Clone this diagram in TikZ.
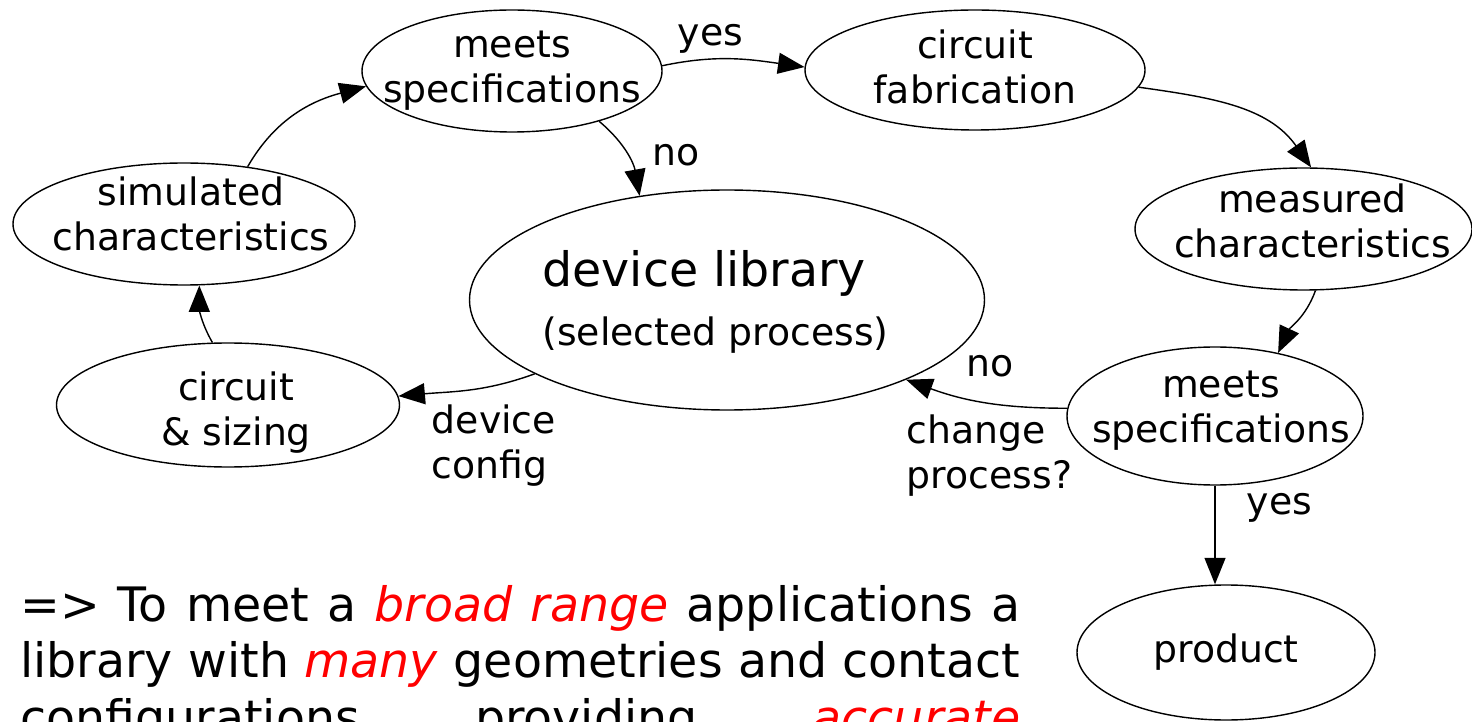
\documentclass[tikz,border=0pt]{standalone}
\usepackage{fontspec}
\setmainfont{DejaVu Sans}
\usepackage{xcolor}
\usetikzlibrary{positioning,backgrounds,arrows.meta,shapes.geometric}
\newcommand{\ligne}[1]{\leavevmode\hbox to 20cm{\spaceskip=0.318em plus 1fil\relax #1}}

\begin{document}
\begin{tikzpicture}
        \tikzset{
          bulle/.style={
            ellipse,draw,line width=0.8pt,inner sep=0pt,
          },
          texte/.style={
            font=\fontsize{21.5}{25.6}\selectfont,align=center,inner sep=0pt,
          },
          fleche/.style={
            -{Triangle[length=5.3mm,width=4.2mm]},line width=0.8pt,
          },
          etiquette/.style={texte,align=left},
          }
        \useasboundingbox (0,0) rectangle (29.44,-14.44);
        \clip (0,0) rectangle (29.44,-14.44);
        \node[bulle, minimum width=6cm, minimum height=2.44cm,
              label={[texte]center:meets\\specifications}] (a) at (10.24,-1.42) {};
        \node[bulle, minimum width=6.8cm, minimum height=2.4cm,
              label={[texte, yshift=0.06cm]center:circuit\\fabrication}] (b) at (19.5,-1.4) {};
        \node[bulle, minimum width=10.3cm, minimum height=4.4cm,
              label={[texte, xshift=-0.23cm, yshift=-0.09cm]center:{\begin{tabular}{@{}l@{}}{\fontsize{27}{34}\selectfont device library}\\[8pt](selected process)\end{tabular}}}] (c) at (14.54,-6.0) {};
        \node[bulle, minimum width=6.84cm, minimum height=2.44cm,
              label={[texte, xshift=0.14cm, yshift=0.2cm]center:simulated\\characteristics}] (d) at (3.68,-4.48) {};
        \node[bulle, minimum width=6.86cm, minimum height=2.48cm,
              label={[texte, xshift=0.16cm, yshift=-0.16cm]center:circuit\\\& sizing}] (e) at (4.56,-8.1) {};
        \node[bulle, minimum width=6.74cm, minimum height=2.44cm,
              label={[texte, xshift=0.18cm, yshift=0.16cm]center:measured\\characteristics}] (f) at (26.07,-4.58) {};
        \node[bulle, minimum width=5.92cm, minimum height=2.76cm,
              label={[texte, xshift=0.12cm, yshift=0.1cm]center:meets\\specifications}] (g) at (24.3,-8.32) {};
        \node[bulle, minimum width=5.96cm, minimum height=2.7cm,
              label={[texte]center:product}] (h) at (24.52,-13.05) {};
        % texte du bas, coupe par le cadre
        \node[anchor=base west, inner sep=0pt, text width=20cm, align=left,
              font=\fontsize{27}{32.4}\selectfont] (t) at (0.4,-12.42)
              {\ligne{=> To meet a \textcolor{red}{\textit{broad range}} applications a}\\
               \ligne{library with \textcolor{red}{\textit{many}} geometries and contact}\\
               \ligne{configurations providing \textcolor{red}{\textit{accurate}}}};

        \begin{scope}[on background layer]
            \draw[fleche] (d.42) to[out=60,in=195] (a.186);
            \draw[fleche] (a.2) to[out=12,in=172] node[etiquette, pos=0.33, above=0.1cm]{yes} (b.179);
            \draw[fleche] (a.-30) to[out=-40,in=100] node[etiquette, pos=0.45, right=0.54cm, yshift=-0.08cm]{no} (c.130);
            \draw[fleche] (b.-6) to[out=-8,in=125] (f.83);
            \draw[fleche] (f.-79) to[out=-110,in=65] (g.45);
            \draw[fleche] (g.177) to[out=180,in=-20]
                node[etiquette, pos=0.47, above=0.5cm]{no}
                node[etiquette, pos=0.92, anchor=north west, xshift=-0.28cm, yshift=-0.58cm]{change\\process?} (c.-24);
            \draw[fleche] (g.south) -- node[etiquette, pos=0.22, right=0.62cm]{yes} (g.south |- h.north);
            \draw[fleche] (c.201) to[out=200,in=5]
                node[etiquette, pos=0.78, anchor=north west, yshift=-0.22cm]{device\\config} (e.3);
            \draw[fleche] (e.104) to[out=120,in=-90] (d.-76);
        \end{scope}
      \end{tikzpicture}
\end{document}
